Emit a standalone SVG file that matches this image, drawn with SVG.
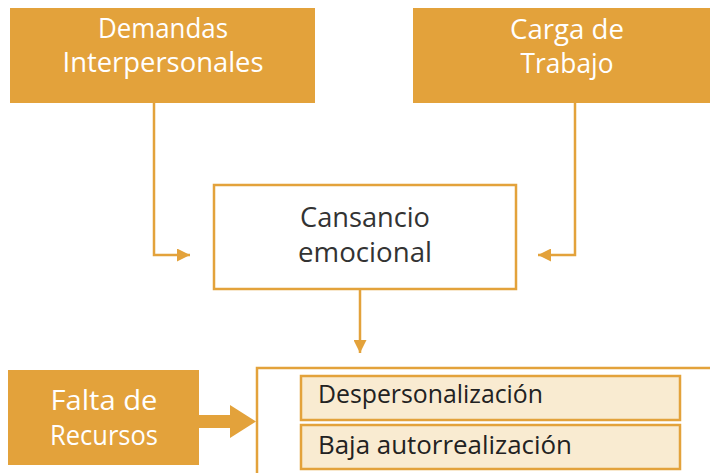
<svg xmlns="http://www.w3.org/2000/svg" width="710" height="473" viewBox="0 0 710 473">
<defs>
<marker id="ah" markerWidth="13" markerHeight="13" refX="13" refY="6.5" orient="auto" markerUnits="userSpaceOnUse">
<path d="M0,0 L13,6.5 L0,13 Z" fill="#E3A23B"/>
</marker>
</defs>
<style>
.box{fill:#E3A23B}
.wbox{fill:#FFFFFF;stroke:#E3A23B;stroke-width:2.5}
.lbox{fill:#F9EBD1;stroke:#E3A23B;stroke-width:2.5}
.wt{font-family:"Open Sans","DejaVu Sans",sans-serif;font-size:27px;fill:#FFFFFF;text-anchor:middle}
.dt{font-family:"Open Sans","DejaVu Sans",sans-serif;font-size:27px;fill:#333333;text-anchor:middle}
.lt{font-family:"Open Sans","DejaVu Sans",sans-serif;font-size:25px;fill:#222222}
.con{fill:none;stroke:#E3A23B;stroke-width:2.5}
</style>
<rect width="710" height="473" fill="#FFFFFF"/>
<g id="connectors">
<path class="con" d="M154,103 V255 H190" marker-end="url(#ah)"/>
<path class="con" d="M575,103 V255 H538" marker-end="url(#ah)"/>
<path class="con" d="M360,289 V353" marker-end="url(#ah)"/>
<path d="M199,415 H230 V405 L256,421.5 L230,438 V428 H199 Z" fill="#E3A23B"/>
</g>
<g id="demandas">
<rect class="box" x="10" y="8" width="305" height="95"/>
<text class="wt" x="163" y="38" textLength="130" lengthAdjust="spacingAndGlyphs">Demandas</text>
<text class="wt" x="163" y="72" textLength="201" lengthAdjust="spacingAndGlyphs">Interpersonales</text>
</g>
<g id="carga">
<rect class="box" x="413" y="8" width="297" height="95"/>
<text class="wt" x="567" y="39" textLength="114" lengthAdjust="spacingAndGlyphs">Carga de</text>
<text class="wt" x="567" y="73" textLength="93" lengthAdjust="spacingAndGlyphs">Trabajo</text>
</g>
<g id="cansancio">
<rect class="wbox" x="214" y="185" width="302" height="104"/>
<text class="dt" x="365" y="227" textLength="130" lengthAdjust="spacingAndGlyphs">Cansancio</text>
<text class="dt" x="365" y="262" textLength="134" lengthAdjust="spacingAndGlyphs">emocional</text>
</g>
<g id="falta">
<rect class="box" x="8" y="370" width="191" height="95"/>
<text class="wt" x="104" y="410" textLength="107" lengthAdjust="spacingAndGlyphs">Falta de</text>
<text class="wt" x="104" y="445" textLength="108" lengthAdjust="spacingAndGlyphs">Recursos</text>
</g>
<g id="resultados">
<rect class="wbox" x="257" y="368" width="470" height="120"/>
</g>
<g id="despersonalizacion">
<rect class="lbox" x="301" y="376" width="379" height="44"/>
<text class="lt" x="318" y="403" textLength="225" lengthAdjust="spacingAndGlyphs">Despersonalización</text>
</g>
<g id="baja">
<rect class="lbox" x="301" y="425" width="379" height="44"/>
<text class="lt" x="318" y="454" textLength="254" lengthAdjust="spacingAndGlyphs">Baja autorrealización</text>
</g>
</svg>
